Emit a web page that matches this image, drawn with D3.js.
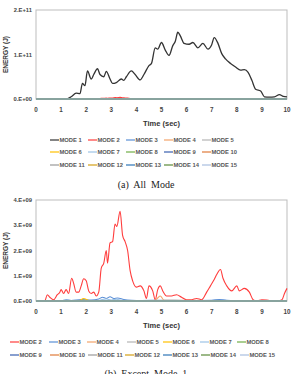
<!DOCTYPE html>
<html><head><meta charset="utf-8">
<script src="https://cdn.jsdelivr.net/npm/d3@7"></script>
<style>body{margin:0;background:#fff}svg{display:block}</style>
</head><body>
<svg id="c" width="293" height="374"></svg>
<script>
// ---- DATA ----
const xTicks = [0,1,2,3,4,5,6,7,8,9,10];
const yTicksA = [0, 1e11, 2e11];
const yTickLabelsA = ["0.E+00","1.E+11","2.E+11"];
const yTicksB = [0, 1e9, 2e9, 3e9, 4e9];
const yTickLabelsB = ["0.E+00","1.E+09","2.E+09","3.E+09","4.E+09"];
const modeNames = ["MODE 1","MODE 2","MODE 3","MODE 4","MODE 5","MODE 6","MODE 7","MODE 8","MODE 9","MODE 10","MODE 11","MODE 12","MODE 13","MODE 14","MODE 15"];
const modeColors = ["#333333","#ff3d3d","#5b8fd6","#f4a46a","#b4b4b4","#ffc000","#9dc3e6","#70ad47","#3a5fb0","#e07b39","#9a9a9a","#d4a017","#2e75b6","#5b8a3a","#a9bfe0"];

// Mode 1 energy (J)
const mode1Time   = [0,0.8,0.9,1.0,1.2,1.4,1.6,1.75,1.85,1.95,2.05,2.2,2.3,2.45,2.55,2.7,2.8,2.95,3.05,3.2,3.4,3.5,3.6,3.8,3.95,4.15,4.3,4.5,4.6,4.75,4.85,5.0,5.15,5.3,5.45,5.55,5.65,5.75,5.9,6.1,6.25,6.45,6.65,6.85,7.0,7.1,7.25,7.4,7.55,7.75,7.95,8.15,8.3,8.45,8.6,8.75,8.95,9.1,9.3,9.5,9.7,9.85,10];
const mode1Energy = [0,0,0.01e11,0.005e11,0,0.05e11,0.13e11,0.12e11,0.35e11,0.3e11,0.63e11,0.45e11,0.55e11,0.68e11,0.55e11,0.5e11,0.62e11,0.45e11,0.35e11,0.37e11,0.45e11,0.42e11,0.5e11,0.63e11,0.55e11,0.43e11,0.55e11,0.75e11,0.8e11,1.15e11,1.12e11,1.27e11,1.1e11,0.98e11,1.2e11,1.3e11,1.5e11,1.42e11,1.25e11,1.23e11,1.27e11,1.15e11,1.25e11,1.12e11,1.22e11,1.38e11,1.25e11,1.02e11,0.9e11,0.8e11,0.72e11,0.65e11,0.66e11,0.6e11,0.42e11,0.22e11,0.18e11,0.05e11,0.04e11,0.05e11,0.1e11,0.06e11,0.05e11];

// Mode 2 energy (J)
const mode2Time   = [0,0.35,0.45,0.55,0.7,0.85,0.95,1.0,1.1,1.2,1.3,1.42,1.5,1.6,1.7,1.8,1.9,2.0,2.1,2.2,2.3,2.4,2.5,2.6,2.7,2.8,2.85,2.95,3.05,3.15,3.22,3.35,3.45,3.55,3.65,3.75,3.85,4.0,4.15,4.3,4.4,4.5,4.65,4.75,4.85,4.95,5.05,5.2,5.4,5.6,5.8,6.0,6.2,6.4,6.6,6.8,6.95,7.1,7.2,7.35,7.45,7.6,7.8,8.0,8.1,8.3,8.5,8.65,8.8,9.0,9.3,9.6,9.8,9.9,10];
const mode2Energy = [0,0,0.25e9,0.15e9,0.05e9,0.25e9,0.35e9,0.45e9,0.3e9,0.45e9,0.3e9,0.9e9,0.7e9,0.35e9,0.35e9,0.6e9,0.88e9,0.8e9,0.4e9,0.3e9,0.35e9,0.2e9,0.35e9,1.3e9,1.5e9,2.0e9,1.5e9,2.3e9,2.35e9,3.05e9,2.95e9,3.55e9,2.6e9,2.35e9,2.0e9,1.2e9,0.8e9,0.55e9,0.6e9,0.4e9,0.1e9,0.6e9,0.4e9,0.05e9,0.45e9,0.6e9,0.4e9,0.2e9,0.2e9,0.25e9,0.15e9,0.05e9,0.05e9,0.1e9,0.05e9,0.35e9,0.6e9,0.85e9,1.05e9,1.25e9,0.9e9,0.6e9,0.4e9,0.6e9,0.4e9,0.5e9,0.35e9,0.05e9,0,0.05e9,0.02e9,0,0.05e9,0.3e9,0.5e9];

// Minor modes (J)
const mode3Time   = [0,1.0,1.2,1.4,1.8,2.2,2.5,2.65,2.8,2.95,3.1,3.25,3.5,3.8,4.2,5.0,6.0,7.0,7.3,7.6,8.5,10];
const mode3Energy = [0,0,0.05e9,0.02e9,0.06e9,0.04e9,0.08e9,0.15e9,0.1e9,0.17e9,0.1e9,0.12e9,0.06e9,0.03e9,0.02e9,0.03e9,0.02e9,0.03e9,0.06e9,0.03e9,0.01e9,0];
const mode4Time   = [0,4.7,4.85,4.95,5.1,10];
const mode4Energy = [0,0,0.12e9,0.2e9,0.03e9,0];
const mode6Time   = [0,1.7,1.9,2.05,2.3,10];
const mode6Energy = [0,0,0.1e9,0.04e9,0,0];
const mode7Time   = [0,2.4,2.6,2.8,3.0,3.2,3.5,10];
const mode7Energy = [0,0,0.05e9,0.08e9,0.04e9,0.07e9,0.01e9,0];

// ---- DRAW ----
const svg = d3.select("#c");
const font = "'Liberation Sans', Arial, sans-serif";

function series(t, v, i){ return {name: modeNames[i], color: modeColors[i], pts: t.map((d,k)=>({t:d, v:v[k]}))}; }
const zeroSeries = i => series([0,10],[0,0],i);

function drawChart(cfg){
  const x = d3.scaleLinear().domain([0,10]).range([cfg.left, cfg.right]);
  const y = d3.scaleLinear().domain([0, cfg.yMax]).range([cfg.bottom, cfg.top]);
  const g = svg.append("g");
  g.append("rect").attr("x",cfg.left).attr("y",cfg.top).attr("width",cfg.right-cfg.left).attr("height",cfg.bottom-cfg.top)
    .attr("fill","none").attr("stroke","#bdbdbd").attr("stroke-width",1);
  g.selectAll(".yt").data(cfg.yTicks).join("text")
    .attr("x", cfg.left-4).attr("y", d=>y(d)).attr("dy","0.35em")
    .attr("text-anchor","end").attr("font-family",font).attr("font-size",5.8).attr("font-weight","bold").attr("fill","#444")
    .text((d,i)=>cfg.yLabels[i]);
  g.selectAll(".xt").data(xTicks).join("text")
    .attr("x", d=>x(d)).attr("y", cfg.bottom+11).attr("dy","0.35em")
    .attr("text-anchor","middle").attr("font-family",font).attr("font-size",6.3).attr("font-weight","bold").attr("fill","#444")
    .text(d=>d);
  g.append("text").attr("x",(cfg.left+cfg.right)/2).attr("y",cfg.bottom+24).attr("dy","0.35em")
    .attr("text-anchor","middle").attr("font-family",font).attr("font-size",7.5).attr("font-weight","bold").attr("fill","#333")
    .text("Time (sec)");
  g.append("text").attr("transform",`translate(6,${(cfg.top+cfg.bottom)/2}) rotate(-90)`).attr("dy","0.35em")
    .attr("text-anchor","middle").attr("font-family",font).attr("font-size",6.5).attr("font-weight","bold").attr("fill","#333")
    .text("ENERGY (J)");
  const line = d3.line().x(d=>x(d.t)).y(d=>y(d.v)).curve(d3.curveMonotoneX);
  cfg.series.forEach(s=>{
    g.append("path").attr("d", line(s.pts.map(p=>({t:p.t, v:Math.min(p.v,cfg.yMax)}))))
      .attr("fill","none").attr("stroke", s.color).attr("stroke-width", s.w||1.1);
  });
  cfg.legendRows.forEach((row, r)=>{
    row.forEach((idx, c)=>{
      const lx = cfg.legendX[r][c], ly = cfg.legendY[r];
      g.append("line").attr("x1",lx).attr("x2",lx+9).attr("y1",ly).attr("y2",ly)
        .attr("stroke",modeColors[idx]).attr("stroke-width",1.2);
      g.append("text").attr("x",lx+9.5).attr("y",ly).attr("dy","0.35em")
        .attr("font-family",font).attr("font-size",5.8).attr("font-weight","bold").attr("fill","#555")
        .text(modeNames[idx]);
    });
  });
}

// Chart (a)
const seriesA = [series(mode1Time,mode1Energy,0), series(mode2Time,mode2Energy,1), series(mode3Time,mode3Energy,2),
  series(mode4Time,mode4Energy,3), zeroSeries(4), series(mode6Time,mode6Energy,5), series(mode7Time,mode7Energy,6)];
for(let i=7;i<15;i++) seriesA.push(zeroSeries(i));
seriesA[0].w = 1.3;
drawChart({left:36, right:287, top:10, bottom:99, yMax:2e11, yTicks:yTicksA, yLabels:yTickLabelsA, series:seriesA,
  legendRows:[[0,1,2,3,4],[5,6,7,8,9],[10,11,12,13,14]],
  legendY:[140,152,165],
  legendX:[[50,88,126,164,202],[50,88,126,164,202],[50,88,126,164,202]]});

// Chart (b)
const seriesB = seriesA.slice(1);
drawChart({left:36, right:287, top:200, bottom:301, yMax:4e9, yTicks:yTicksB, yLabels:yTickLabelsB, series:seriesB,
  legendRows:[[1,2,3,4,5,6,7],[8,9,10,11,12,13,14]],
  legendY:[342,355],
  legendX:[[10,49,87,127,163,200,237],[10,50,88,125,163,201,240]]});

// captions
svg.append("text").attr("x",146).attr("y",188).attr("text-anchor","middle")
  .attr("font-family","'Liberation Serif', 'Times New Roman', serif").attr("font-size",10).attr("fill","#222")
  .attr("xml:space","preserve").text("(a)  All  Mode");
svg.append("text").attr("x",146).attr("y",377).attr("text-anchor","middle")
  .attr("font-family","'Liberation Serif', 'Times New Roman', serif").attr("font-size",10).attr("fill","#222")
  .attr("xml:space","preserve").text("(b)  Except  Mode  1");
</script>
</body></html>
